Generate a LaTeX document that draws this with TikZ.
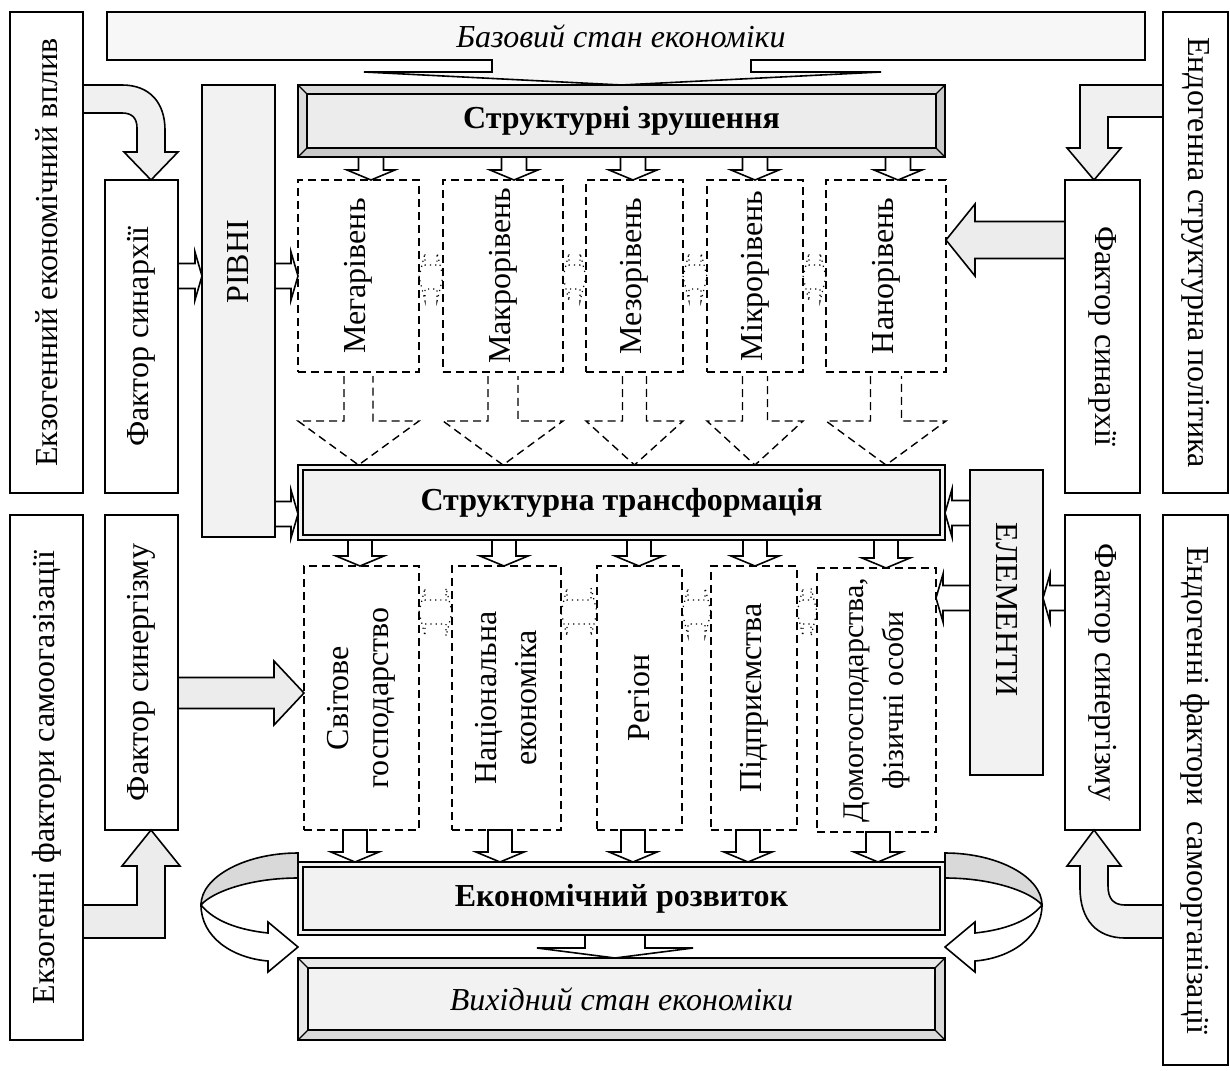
\documentclass[tikz,border=0pt]{standalone}
\usepackage{fontspec}
\setmainfont{Liberation Serif}
\usetikzlibrary{calc}

% block arrows: [style]{from}{to}{point on axis}{shaft half}{head half}{head length}
\newcommand{\blkdown}[7][]{%
  \draw[blk,#1] let \p1=(#2), \p2=(#3), \p3=(#4) in
    ({\x3-#5},\y1) -- ({\x3-#5},{\y2+#7}) -- ({\x3-#6},{\y2+#7}) -- (\x3,\y2)
    -- ({\x3+#6},{\y2+#7}) -- ({\x3+#5},{\y2+#7}) -- ({\x3+#5},\y1) -- cycle;}
\newcommand{\blkright}[7][]{%
  \draw[blk,#1] let \p1=(#2), \p2=(#3), \p3=(#4) in
    (\x1,{\y3+#5}) -- ({\x2-#7},{\y3+#5}) -- ({\x2-#7},{\y3+#6}) -- (\x2,\y3)
    -- ({\x2-#7},{\y3-#6}) -- ({\x2-#7},{\y3-#5}) -- (\x1,{\y3-#5}) -- cycle;}
\newcommand{\blkleft}[7][]{%
  \draw[blk,#1] let \p1=(#2), \p2=(#3), \p3=(#4) in
    (\x1,{\y3+#5}) -- ({\x2+#7},{\y3+#5}) -- ({\x2+#7},{\y3+#6}) -- (\x2,\y3)
    -- ({\x2+#7},{\y3-#6}) -- ({\x2+#7},{\y3-#5}) -- (\x1,{\y3-#5}) -- cycle;}
% dashed arrow under a level box
\newcommand{\dshdown}[4]{%
  \draw[dsh] let \p1=(#1), \p2=(#2) in
    ({\x1-#3},{\y1-2pt}) -- ({\x1-#3},{\y2+22pt}) -- ({\x1-#4},{\y2+22pt}) -- (\x1,\y2)
    -- ({\x1+#4},{\y2+22pt}) -- ({\x1+#3},{\y2+22pt}) -- ({\x1+#3},{\y1-2pt});}
% dotted two-way link
\newcommand{\dblarr}[3]{%
  \draw[dtt] let \p1=(#1), \p2=(#2), \p3=(#3) in
    (\x1,\y3) -- ({\x1+3pt},{\y3+12pt}) -- ({\x1+3pt},{\y3+6pt}) -- ({\x2-3pt},{\y3+6pt})
    -- ({\x2-3pt},{\y3+12pt}) -- (\x2,\y3) -- ({\x2-3pt},{\y3-12pt}) -- ({\x2-3pt},{\y3-6pt})
    -- ({\x1+3pt},{\y3-6pt}) -- ({\x1+3pt},{\y3-12pt}) -- cycle;}
% bevelled frame round a node
\newcommand{\bevel}[4]{%
  \fill[#3] (#1.north west) -- (#1.north east) -- ($(#1.north east)+(-#2,#2)$) -- ($(#1.north west)+(#2,#2)$) -- cycle;
  \fill[#3] (#1.north west) -- ($(#1.north west)+(#2,#2)$) -- ($(#1.south west)+(#2,-#2)$) -- (#1.south west) -- cycle;
  \fill[#4] (#1.south west) -- ($(#1.south west)+(#2,-#2)$) -- ($(#1.south east)+(-#2,-#2)$) -- (#1.south east) -- cycle;
  \fill[#4] (#1.north east) -- (#1.south east) -- ($(#1.south east)+(-#2,-#2)$) -- ($(#1.north east)+(-#2,#2)$) -- cycle;
  \draw[line width=0.6pt] (#1.north west) -- ($(#1.north west)+(#2,#2)$) (#1.north east) -- ($(#1.north east)+(-#2,#2)$)
    (#1.south west) -- ($(#1.south west)+(#2,-#2)$) (#1.south east) -- ($(#1.south east)+(-#2,-#2)$);
  \draw[line width=0.8pt] (#1.north west) rectangle (#1.south east) ($(#1.north west)+(#2,#2)$) rectangle ($(#1.south east)+(-#2,-#2)$);}

\begin{document}
\begin{tikzpicture}[x=0.5pt, y=-0.5pt, font=\fontsize{16}{18}\selectfont,
  box/.style={draw, line width=0.8pt, fill=white, inner sep=0pt, outer sep=0pt},
  graybox/.style={box, fill=gray!10},
  lvl/.style={draw, line width=0.7pt, dash pattern=on 4pt off 2.5pt, inner sep=0pt, outer sep=0pt},
  vup/.style={rotate=90, align=center},
  vdown/.style={rotate=-90, align=center},
  bftxt/.style={font=\fontsize{16}{18}\selectfont\bfseries},
  ittxt/.style={font=\fontsize{16}{18}\selectfont\itshape},
  blk/.style={draw, line width=0.8pt, fill=white},
  garr/.style={draw, line width=0.8pt, fill=gray!12},
  dsh/.style={line width=0.7pt, dash pattern=on 4pt off 2.5pt},
  dtt/.style={line width=0.6pt, dotted}]

\useasboundingbox (0,0) rectangle (1230,1070);

% outer factors
\node[box, minimum width=36.5pt, minimum height=240.5pt, label={[vup]center:Екзогенний економічний вплив}] (exo) at (46.5,252.5) {};
\node[box, minimum width=36.5pt, minimum height=262.5pt, label={[vup]center:Екзогенні фактори самоогазізації}] (exoS) at (46.5,777.5) {};
\node[box, minimum width=32.5pt, minimum height=240.5pt, label={[vdown]center:Ендогенна структурна політика}] (endo) at (1195.5,252.5) {};
\node[box, minimum width=32.5pt, minimum height=275pt, label={[vdown]center:Ендогенні фактори~ самоорганізації}] (endoS) at (1195.5,790) {};

% factors
\node[box, minimum width=36.5pt, minimum height=156.5pt, label={[vup]center:Фактор синархії}] (lsin) at (141.5,336.5) {};
\node[box, minimum width=37.5pt, minimum height=156.5pt, label={[vdown]center:Фактор синархії}] (rsin) at (1102.5,336.5) {};
\node[box, minimum width=36.5pt, minimum height=157.5pt, label={[vup]center:Фактор синергізму}] (lsyn) at (141.5,672.5) {};
\node[box, minimum width=37.5pt, minimum height=157.5pt, label={[vdown]center:Фактор синергізму}] (rsyn) at (1102.5,672.5) {};
\node[graybox, minimum width=36.5pt, minimum height=226pt] (rivni) at (238.5,311) {};
\node[vup] (rivniT) at (238.5,262) {РІВНІ};
\node[graybox, minimum width=36.5pt, minimum height=152.5pt] (elem) at (1006.5,622.5) {};
\node[vdown] (elemT) at (1006.5,610) {ЕЛЕМЕНТИ};

% main stages
\node[box, fill=gray!15, bftxt, minimum width=323.5pt, minimum height=36pt] (szr) at (621.5,121) {Структурні зрушення};
\bevel{szr}{9}{gray!28}{gray!42}
\node[box, fill=gray!10, line width=0.6pt, bftxt, minimum width=323.5pt, minimum height=37.5pt] (stt) at (621.5,502.5) {Структурна трансформація};
\draw[line width=1.4pt] ($(stt.north west)+(5,5)$) rectangle ($(stt.south east)+(-5,-5)$);
\node[box, fill=gray!10, line width=1pt, bftxt, minimum width=323.5pt, minimum height=36.5pt] (ekr) at (621.5,898.5) {Економічний розвиток};
\draw[line width=1.2pt] ($(ekr.north west)+(5,5)$) rectangle ($(ekr.south east)+(-5,-5)$);
\node[box, fill=gray!10, ittxt, minimum width=323.5pt, minimum height=41pt] (vyh) at (621.5,999) {Вихідний стан економіки};
\bevel{vyh}{10}{gray!18}{gray!30}

% base state banner
\draw[line width=0.8pt, fill=gray!6] (107,12) -- (1145,12) -- (1145,60) -- (751,60) -- (751,72) -- (881,72)
  -- (szr.north) -- (364,72) -- (492,72) -- (492,60) -- (107,60) -- cycle;
\node[ittxt] (base) at (621,36) {Базовий стан економіки};

% levels
\node[lvl, minimum width=60.5pt, minimum height=96pt, label={[vup]center:Мегарівень}] (lvlA) at (358.5,276) {};
\node[lvl, minimum width=60pt, minimum height=96pt, label={[vup]center:Макрорівень}] (lvlB) at (503,276) {};
\node[lvl, minimum width=48.5pt, minimum height=96pt, label={[vup]center:Мезорівень}] (lvlC) at (634.5,276) {};
\node[lvl, minimum width=48pt, minimum height=96pt, label={[vup]center:Мікрорівень}] (lvlD) at (755,276) {};
\node[lvl, minimum width=60pt, minimum height=96pt, label={[vup]center:Нанорівень}] (lvlE) at (886,276) {};

% elements
\node[lvl, minimum width=57.5pt, minimum height=132pt, label={[vup]center:Світове\\[2pt]господарство}] (elA) at (361.5,698) {};
\node[lvl, minimum width=54.5pt, minimum height=132pt, label={[vup]center:Національна\\[2pt]економіка}] (elB) at (506.5,698) {};
\node[lvl, minimum width=42.5pt, minimum height=132pt, label={[vup]center:Регіон}] (elC) at (639.5,698) {};
\node[lvl, minimum width=43pt, minimum height=132pt, label={[vup]center:Підприємства}] (elD) at (754,698) {};
\node[lvl, minimum width=59.5pt, minimum height=132pt, label={[vup, font=\fontsize{15}{18}\selectfont]center:{Домогосподарства,\\[2pt]фізичні особи}}] (elE) at (876.5,700) {};

% shifts -> levels
\blkdown{szr.south}{lvlA.north}{371,0}{6.25pt}{12pt}{5pt}
\blkdown{szr.south}{lvlB.north}{514,0}{6.25pt}{12pt}{5pt}
\blkdown{szr.south}{lvlC.north}{633,0}{6.25pt}{12pt}{5pt}
\blkdown{szr.south}{lvlD.north}{755,0}{6.25pt}{12pt}{5pt}
\blkdown{szr.south}{lvlE.north}{898,0}{6.25pt}{12pt}{5pt}

% levels -> transformation
\dshdown{lvlA.south}{stt.north}{7.25pt}{30.25pt}
\dshdown{lvlB.south}{stt.north}{7.5pt}{30pt}
\dshdown{lvlC.south}{stt.north}{6pt}{24.25pt}
\dshdown{lvlD.south}{stt.north}{6.25pt}{24pt}
\dshdown{lvlE.south}{stt.north}{7.75pt}{30pt}

% links between neighbours
\dblarr{lvlA.east}{lvlB.west}{0,277}
\dblarr{lvlB.east}{lvlC.west}{0,277}
\dblarr{lvlC.east}{lvlD.west}{0,277}
\dblarr{lvlD.east}{lvlE.west}{0,277}
\dblarr{elA.east}{elB.west}{0,612}
\dblarr{elB.east}{elC.west}{0,612}
\dblarr{elC.east}{elD.west}{0,612}
\dblarr{elD.east}{elE.west}{0,612}

% side arrows
\blkright{lsin.east}{rivni.west}{0,276}{6.25pt}{12pt}{3.5pt}
\blkright{rivni.east}{lvlA.west}{0,276}{6.25pt}{12pt}{3.5pt}
\blkright{rivni.east}{stt.west}{0,514}{6.25pt}{12pt}{3.5pt}
\blkleft{elem.west}{stt.east}{0,513}{6.25pt}{12pt}{3.5pt}
\blkleft{elem.west}{elE.east}{0,598}{6.25pt}{12pt}{3.5pt}
\blkleft{rsyn.west}{elem.east}{0,598}{6.25pt}{12pt}{3.5pt}
\blkleft[fill=gray!15]{rsin.west}{lvlE.east}{0,240}{9.25pt}{18pt}{14.5pt}
\blkright[fill=gray!15]{lsyn.east}{elA.west}{0,693}{7.75pt}{16pt}{15pt}

% transformation -> elements -> development
\blkdown{stt.south}{elA.north}{360,0}{6pt}{12pt}{5pt}
\blkdown{stt.south}{elB.north}{504,0}{6pt}{12pt}{5pt}
\blkdown{stt.south}{elC.north}{639,0}{6pt}{12pt}{5pt}
\blkdown{stt.south}{elD.north}{755,0}{6pt}{12pt}{5pt}
\blkdown{stt.south}{elE.north}{886,0}{6pt}{12pt}{5pt}
\blkdown{elA.south}{ekr.north}{355,0}{6pt}{12pt}{5pt}
\blkdown{elB.south}{ekr.north}{500,0}{6pt}{12pt}{5pt}
\blkdown{elC.south}{ekr.north}{633,0}{6pt}{12pt}{5pt}
\blkdown{elD.south}{ekr.north}{748,0}{6pt}{12pt}{5pt}
\blkdown{elE.south}{ekr.north}{878,0}{6pt}{12pt}{5pt}
\blkdown{ekr.south}{vyh.north}{615,0}{15pt}{39pt}{5pt}

% outer factors -> factors
\draw[garr] (83,85) -- (122,85) .. controls (150,85) and (165,103) .. (165,130) -- (165,152) -- (178,152)
  -- (151,180) -- (124,152) -- (137,152) -- (137,128) .. controls (137,118) and (132,113) .. (122,113) -- (83,113) -- cycle;
\draw[garr] (1163,85) -- (1080,85) -- (1080,148) -- (1067,148) -- (1094,180) -- (1121,148) -- (1108,148)
  -- (1108,117) -- (1163,117) -- cycle;
\draw[garr, fill=gray!15] (83,905) -- (137,905) -- (137,866) -- (122,866) -- (151,830) -- (180,866) -- (165,866)
  -- (165,938) -- (83,938) -- cycle;
\draw[garr] (1163,905) -- (1125,905) .. controls (1113,905) and (1108,898) .. (1108,886) -- (1108,866) -- (1121,866)
  -- (1094,830) -- (1067,866) -- (1080,866) -- (1080,888) .. controls (1080,920) and (1097,938) .. (1125,938) -- (1163,938) -- cycle;

% feedback round development
\draw[blk, fill=gray!30] (298,853) .. controls (245,853) and (201,877) .. (201,905) .. controls (212,892) and (250,878) .. (298,878) -- cycle;
\draw[blk] (201,905) .. controls (201,937) and (232,958) .. (268,961) -- (268,972) -- (298,947) -- (268,922) -- (268,933)
  .. controls (240,930) and (215,922) .. (201,905) -- cycle;
\draw[blk, fill=gray!30] (945,853) .. controls (998,853) and (1042,877) .. (1042,905) .. controls (1031,892) and (993,878) .. (945,878) -- cycle;
\draw[blk] (1042,905) .. controls (1042,937) and (1011,958) .. (975,961) -- (975,972) -- (945,947) -- (975,922) -- (975,933)
  .. controls (1003,930) and (1028,922) .. (1042,905) -- cycle;

\end{tikzpicture}
\end{document}
